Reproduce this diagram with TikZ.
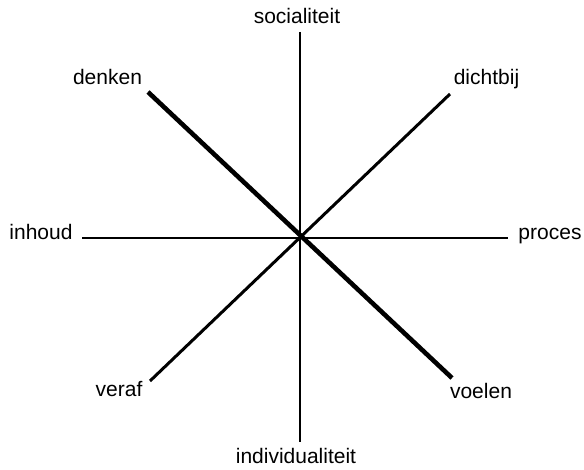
\documentclass[tikz,border=0pt]{standalone}
\usepackage{fontspec}
\setmainfont{Liberation Sans}
\begin{document}
\begin{tikzpicture}[x=1pt,y=-1pt,
  lbl/.style={anchor=base,inner sep=0pt,font=\fontsize{21}{24}\selectfont},
  axis/.style={line width=2.2pt},
  diagA/.style={line width=4.6pt},
  diagB/.style={line width=3pt}]
\useasboundingbox (0,0) rectangle (584,470);
\coordinate (top) at (300,32);
\coordinate (bot) at (300,442);
\coordinate (lft) at (82,238);
\coordinate (rgt) at (508,238);
\coordinate (dA1) at (148,92);
\coordinate (dA2) at (452,378);
\coordinate (dB1) at (450,94);
\coordinate (dB2) at (150,381);
\draw[axis] (top) -- (bot);
\draw[axis] (lft) -- (rgt);
\draw[diagB] (dB1) -- (dB2);
\draw[diagA] (dA1) -- (dA2);
\node[lbl] (soc) at (297,24) {socialiteit};
\node[lbl] (ind) at (296,463) {individualiteit};
\node[lbl] (den) at (107.5,85) {denken};
\node[lbl] (dic) at (486.5,85) {dichtbij};
\node[lbl] (inh) at (41,240) {inhoud};
\node[lbl] (pro) at (550,240) {proces};
\node[lbl] (ver) at (119,397) {veraf};
\node[lbl] (voe) at (481,399) {voelen};
\end{tikzpicture}
\end{document}
